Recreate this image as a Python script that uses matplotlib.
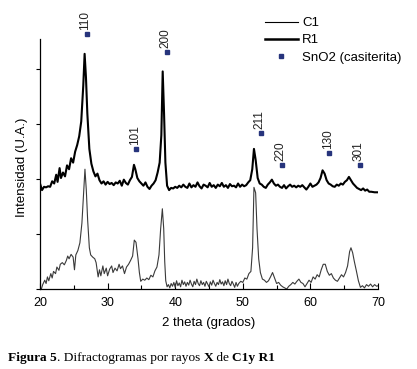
import matplotlib
matplotlib.use("Agg")
import matplotlib.pyplot as plt
from matplotlib.lines import Line2D

# Difractogramas (2 theta, intensidad relativa)
r1_points = [
    (20.0, 1.92), (20.3, 1.80), (20.6, 1.86), (20.9, 1.85), (21.2, 1.87), (21.5, 1.86),
    (21.8, 1.96), (22.1, 1.92), (22.4, 2.08), (22.6, 1.95), (22.9, 2.20), (23.1, 2.02),
    (23.4, 2.12), (23.7, 2.05), (24.0, 2.25), (24.3, 2.18), (24.6, 2.38), (24.9, 2.30),
    (25.2, 2.50), (25.5, 2.62), (25.8, 2.78), (26.1, 3.05), (26.4, 3.70), (26.6, 4.28),
    (26.8, 3.85), (27.0, 3.20), (27.3, 2.55), (27.6, 2.28), (27.9, 2.14), (28.2, 2.05),
    (28.5, 2.10), (28.8, 1.98), (29.1, 1.92), (29.4, 1.96), (29.7, 1.90), (30.0, 1.95),
    (30.3, 1.91), (30.6, 1.93), (30.9, 1.89), (31.2, 1.94), (31.5, 1.92), (31.8, 1.97),
    (32.1, 1.88), (32.4, 1.99), (32.7, 1.93), (33.0, 1.90), (33.3, 1.98), (33.6, 2.04),
    (33.9, 2.26), (34.1, 2.18), (34.4, 2.02), (34.7, 1.96), (35.0, 1.92), (35.3, 1.88),
    (35.6, 1.94), (35.9, 1.86), (36.2, 1.82), (36.5, 1.88), (36.8, 1.92), (37.1, 1.98),
    (37.4, 2.12), (37.7, 2.30), (37.95, 2.80), (38.15, 3.96), (38.35, 3.20), (38.55, 2.30),
    (38.8, 1.88), (39.1, 1.80), (39.4, 1.84), (39.7, 1.83), (40.0, 1.86), (40.3, 1.84),
    (40.6, 1.88), (40.9, 1.85), (41.2, 1.90), (41.5, 1.86), (41.8, 1.84), (42.1, 1.92),
    (42.4, 1.85), (42.7, 1.89), (43.0, 1.86), (43.3, 1.94), (43.6, 1.87), (43.9, 1.83),
    (44.2, 1.90), (44.5, 1.88), (44.8, 1.85), (45.1, 1.93), (45.4, 1.86), (45.7, 1.89),
    (46.0, 1.84), (46.3, 1.90), (46.6, 1.87), (46.9, 1.93), (47.2, 1.86), (47.5, 1.89),
    (47.8, 1.84), (48.1, 1.91), (48.4, 1.87), (48.7, 1.88), (49.0, 1.85), (49.3, 1.92),
    (49.6, 1.86), (49.9, 1.90), (50.2, 1.87), (50.5, 1.89), (50.8, 1.94), (51.1, 1.98),
    (51.4, 2.18), (51.65, 2.55), (51.9, 2.35), (52.2, 2.02), (52.5, 1.92), (52.8, 1.90),
    (53.1, 1.86), (53.4, 1.84), (53.7, 1.90), (54.0, 1.94), (54.3, 1.99), (54.6, 1.92),
    (54.9, 1.88), (55.2, 1.90), (55.5, 1.86), (55.8, 1.84), (56.1, 1.89), (56.4, 1.83),
    (56.7, 1.87), (57.0, 1.90), (57.3, 1.86), (57.6, 1.88), (57.9, 1.85), (58.2, 1.88),
    (58.5, 1.86), (58.8, 1.89), (59.1, 1.85), (59.4, 1.81), (59.7, 1.86), (60.0, 1.92),
    (60.3, 1.86), (60.6, 1.88), (60.9, 1.90), (61.2, 1.94), (61.5, 2.02), (61.8, 2.16),
    (62.1, 2.10), (62.4, 1.98), (62.7, 1.92), (63.0, 1.90), (63.3, 1.87), (63.6, 1.86),
    (63.9, 1.90), (64.2, 1.88), (64.5, 1.92), (64.8, 1.90), (65.1, 1.95), (65.4, 1.98),
    (65.7, 2.04), (66.0, 1.98), (66.3, 1.92), (66.6, 1.88), (66.9, 1.84), (67.2, 1.82),
    (67.5, 1.80), (67.8, 1.83), (68.1, 1.79), (68.4, 1.81), (68.7, 1.77), (69.0, 1.77),
    (69.5, 1.76), (70.0, 1.76),
]

c1_points = [
    (20.0, 0.02), (20.2, 0.00), (20.4, 0.08), (20.7, 0.16), (20.9, 0.10), (21.1, 0.22),
    (21.3, 0.15), (21.6, 0.28), (21.8, 0.20), (22.0, 0.32), (22.3, 0.28), (22.5, 0.40),
    (22.8, 0.34), (23.0, 0.45), (23.3, 0.48), (23.6, 0.44), (23.9, 0.52), (24.1, 0.60),
    (24.3, 0.55), (24.6, 0.63), (24.9, 0.58), (25.1, 0.35), (25.3, 0.62), (25.6, 0.70),
    (25.9, 0.84), (26.2, 1.20), (26.45, 1.75), (26.65, 2.18), (26.85, 1.80), (27.05, 1.25),
    (27.3, 0.75), (27.5, 0.62), (27.8, 0.58), (28.1, 0.55), (28.3, 0.48), (28.6, 0.22),
    (28.8, 0.35), (29.0, 0.24), (29.3, 0.42), (29.5, 0.28), (29.8, 0.38), (30.0, 0.24),
    (30.3, 0.36), (30.6, 0.42), (30.8, 0.30), (31.1, 0.38), (31.4, 0.33), (31.7, 0.45),
    (31.9, 0.37), (32.2, 0.42), (32.5, 0.28), (32.8, 0.40), (33.1, 0.45), (33.4, 0.52),
    (33.7, 0.60), (33.95, 0.89), (34.2, 0.85), (34.5, 0.55), (34.7, 0.30), (34.9, 0.14),
    (35.2, 0.18), (35.5, 0.16), (35.8, 0.20), (36.1, 0.17), (36.4, 0.25), (36.7, 0.22),
    (37.0, 0.33), (37.3, 0.40), (37.6, 0.62), (37.85, 1.10), (38.1, 1.46), (38.3, 1.10),
    (38.45, 0.50), (38.6, 0.15), (38.8, 0.04), (39.0, 0.08), (39.2, 0.02), (39.4, 0.10),
    (39.6, 0.05), (39.8, 0.12), (40.0, 0.03), (40.2, 0.15), (40.4, 0.06), (40.6, 0.11),
    (40.8, 0.04), (41.0, 0.16), (41.2, 0.08), (41.4, 0.13), (41.6, 0.05), (41.8, 0.12),
    (42.0, 0.07), (42.2, 0.16), (42.4, 0.09), (42.6, 0.04), (42.8, 0.14), (43.0, 0.08),
    (43.2, 0.18), (43.4, 0.10), (43.6, 0.06), (43.8, 0.15), (44.0, 0.08), (44.2, 0.12),
    (44.4, 0.05), (44.6, 0.14), (44.8, 0.09), (45.0, 0.04), (45.2, 0.13), (45.4, 0.07),
    (45.6, 0.16), (45.8, 0.10), (46.0, 0.05), (46.2, 0.12), (46.4, 0.08), (46.6, 0.17),
    (46.8, 0.09), (47.0, 0.13), (47.2, 0.06), (47.4, 0.15), (47.6, 0.08), (47.8, 0.18),
    (48.0, 0.10), (48.2, 0.06), (48.4, 0.14), (48.6, 0.09), (48.8, 0.03), (49.0, 0.12),
    (49.2, 0.05), (49.4, 0.10), (49.7, 0.14), (50.0, 0.12), (50.3, 0.20), (50.6, 0.18),
    (50.9, 0.28), (51.2, 0.32), (51.45, 0.75), (51.65, 1.85), (51.9, 1.75), (52.1, 1.10),
    (52.35, 0.55), (52.6, 0.30), (52.9, 0.18), (53.2, 0.16), (53.5, 0.12), (53.8, 0.15),
    (54.1, 0.22), (54.4, 0.30), (54.7, 0.20), (55.0, 0.10), (55.3, 0.12), (55.6, 0.07),
    (55.9, 0.04), (56.2, 0.02), (56.5, 0.00), (56.8, 0.05), (57.1, 0.08), (57.4, 0.12),
    (57.7, 0.09), (58.0, 0.14), (58.3, 0.18), (58.6, 0.12), (58.9, 0.10), (59.2, 0.04),
    (59.5, 0.10), (59.8, 0.16), (60.1, 0.12), (60.4, 0.22), (60.7, 0.18), (61.0, 0.26),
    (61.3, 0.22), (61.6, 0.35), (61.9, 0.45), (62.2, 0.45), (62.5, 0.32), (62.8, 0.25),
    (63.1, 0.28), (63.4, 0.20), (63.7, 0.16), (64.0, 0.14), (64.3, 0.20), (64.6, 0.26),
    (64.9, 0.22), (65.2, 0.30), (65.5, 0.42), (65.8, 0.68), (66.0, 0.75), (66.25, 0.66),
    (66.5, 0.50), (66.8, 0.33), (67.1, 0.15), (67.4, 0.03), (67.7, 0.06), (68.0, 0.02),
    (68.3, 0.08), (68.6, 0.05), (68.9, 0.09), (69.2, 0.04), (69.5, 0.08), (69.8, 0.05),
    (70.0, 0.06),
]

# Picos de SnO2 (casiterita)
peak_labels = ['110', '101', '200', '211', '220', '130', '301']
peak_x = [26.9, 34.2, 38.8, 52.7, 55.8, 62.75, 67.3]
peak_y = [4.64, 2.55, 4.31, 2.84, 2.25, 2.47, 2.25]

x_ticks = [20, 30, 40, 50, 60, 70]

sans = 'Liberation Sans'
navy = '#27347c'

fig = plt.figure(figsize=(4.17, 3.69), dpi=100)
ax = fig.add_axes([40 / 417, 1 - 289 / 369, 338 / 417, 250 / 369])

c1_x = [p[0] for p in c1_points]
c1_y = [p[1] for p in c1_points]
r1_x = [p[0] for p in r1_points]
r1_y = [p[1] for p in r1_points]

ax.plot(c1_x, c1_y, color='#3a3a3a', lw=0.8, label='C1')
ax.plot(r1_x, r1_y, color='black', lw=1.5, label='R1')
ax.plot(peak_x, peak_y, 's', color=navy, ms=3, clip_on=False)

for lab, px, py in zip(peak_labels, peak_x, peak_y):
    ax.annotate(lab, (px, py), xytext=(-1, 3), textcoords='offset points',
                rotation=90, ha='center', va='bottom', fontsize=8.5,
                family=sans, color='#222222', annotation_clip=False)

ax.set_xlim(20, 70)
ax.set_ylim(0, 4.55)
ax.set_xticks(x_ticks)
ax.set_xticks([25, 35, 45, 55, 65], minor=True)
ax.set_yticks([0, 1, 2, 3, 4])
ax.set_yticklabels([])
ax.tick_params(axis='x', which='major', direction='in', length=4, width=0.8,
               pad=6, labelsize=9)
ax.tick_params(axis='x', which='minor', direction='in', length=3, width=0.8)
ax.tick_params(axis='y', direction='out', length=3, width=0.8)
for lbl in ax.get_xticklabels():
    lbl.set_family(sans)
for s in ['top', 'right']:
    ax.spines[s].set_visible(False)
for s in ['left', 'bottom']:
    ax.spines[s].set_linewidth(0.9)

fig.text(209 / 417, 1 - 323 / 369, '2 theta (grados)', ha='center', va='center',
         fontsize=9.5, family=sans)
fig.text(22 / 417, 1 - 167 / 369, 'Intensidad (U.A.)', ha='center', va='center',
         rotation=90, fontsize=9.5, family=sans)

handles = [Line2D([], [], color='black', lw=0.8),
           Line2D([], [], color='black', lw=1.8),
           Line2D([], [], ls='none', marker='s', ms=3, color=navy)]
leg = fig.legend(handles, ['C1', 'R1', 'SnO2 (casiterita)'], loc='upper left',
                 bbox_to_anchor=(265 / 417, 1 - 17 / 369), frameon=False,
                 borderpad=0, borderaxespad=0, handlelength=2.5,
                 handletextpad=0.3, labelspacing=0.38,
                 prop={'family': sans, 'size': 9.5})

# Pie de figura con partes en negrita
caption = [('Figura 5', 'bold'), ('. Difractogramas por rayos ', 'normal'),
           ('X', 'bold'), (' de ', 'normal'), ('C1y R1', 'bold')]
renderer = fig.canvas.get_renderer()
xpos = 8
for txt, weight in caption:
    t = fig.text(xpos / 417, 1 - 361 / 369, txt, ha='left', va='baseline',
                 fontsize=9.6, family='Liberation Serif', weight=weight)
    xpos += t.get_window_extent(renderer).width

fig.savefig('out.png', dpi=100)
